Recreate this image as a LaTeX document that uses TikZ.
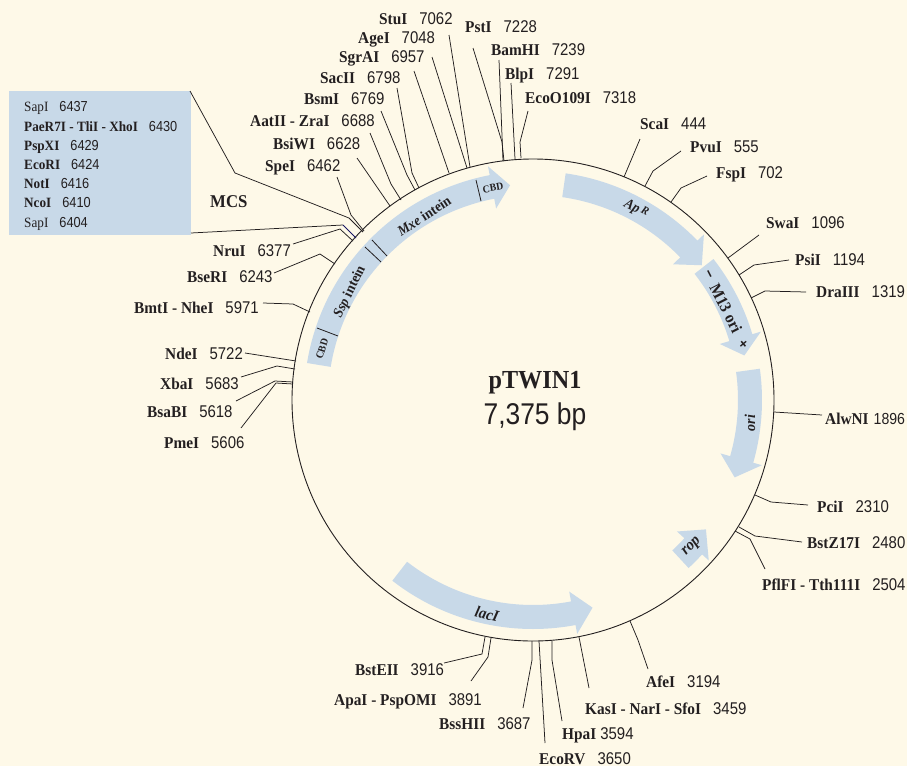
\documentclass[tikz,border=0pt]{standalone}
\usepackage{fontspec}
\setmainfont{Liberation Serif}
\newfontfamily\labserif[FakeStretch=0.93]{Liberation Serif}
\newfontfamily\labsans[FakeStretch=0.88]{Liberation Sans}
\definecolor{paper}{HTML}{FEF9E8}
\definecolor{bandblue}{HTML}{C8D9E8}
\definecolor{ink}{HTML}{231F20}
\tikzset{
  sitelab/.style={anchor=base west,inner sep=0pt,yshift=-6pt,text=ink,font=\labserif\fontsize{16.5}{18}\selectfont},
  boxlab/.style={anchor=base west,inner sep=0pt,yshift=-5pt,text=ink,font=\labserif\fontsize{14.2}{16}\selectfont},
  genelab/.style={inner sep=0pt,text=ink,font=\labserif\bfseries\fontsize{14.4}{17}\selectfont},
  leadline/.style={draw=ink,line width=0.75pt},
  sepline/.style={draw=ink,line width=0.8pt},
  band/.style={fill=bandblue,draw=none},
}
\newcommand{\sitetext}[5]{\node[sitelab] (#1) at (#2,#3) {{\bfseries #4}\hspace{12pt}{\labsans\fontsize{17}{18}\selectfont #5}};}
\newcommand{\boxtext}[5]{\node[boxlab] (#1) at (#2,#3) {{\bfseries #4}\hspace{11pt}{\labsans\fontsize{14.5}{16}\selectfont #5}};}
\newcommand{\leadtwo}[3]{\coordinate (#1a) at #2; \coordinate (#1b) at #3; \draw[leadline] (#1a) -- (#1b);}
\newcommand{\leadthree}[4]{\coordinate (#1a) at #2; \coordinate (#1b) at #3; \coordinate (#1c) at #4; \draw[leadline] (#1a) -- (#1b) -- (#1c);}
\newcommand{\geneband}[3]{\fill[band] (#1:229pt) arc[start angle=#1,end angle=#2,radius=229pt] -- (#2:238pt) -- (#3:216pt) -- (#2:195pt) -- (#2:205pt) arc[start angle=#2,end angle=#1,radius=205pt] -- cycle;}
\begin{document}
\begin{tikzpicture}[x=1pt,y=-1pt]
\fill[paper] (0,0) rectangle (907,766);
\useasboundingbox (0,0) rectangle (907,766);
% gene bands
\begin{scope}[shift={(533,400)}]
\geneband{170.7}{100.9}{96.1}
\geneband{81.8}{44.1}{38.6}
\geneband{38}{16.7}{11.9}
\geneband{7.85}{-15.9}{-21}
\geneband{-47.2}{-42.4}{-36.8}
\geneband{232.1}{280.7}{286}
\end{scope}
% plasmid ring
\node[circle,draw=ink,line width=0.9pt,minimum size=482pt,inner sep=0pt] (ring) at (533,400) {};
% separators
\draw[sepline] (317,328) -- (338,336);
\draw[sepline] (365,247) -- (381,262);
\draw[sepline] (372,240) -- (387,256);
\draw[sepline] (476,180) -- (481,201);
% gene labels
\node[genelab,rotate=72,font=\labserif\bfseries\fontsize{10.5}{12}\selectfont] (cbdone) at (322,349) {CBD};
\node[genelab,rotate=64] (ssp) at (350,292) {{\itshape Ssp} intein};
\node[genelab,rotate=33] (mxe) at (424,216) {{\itshape Mxe} intein};
\node[genelab,rotate=10,font=\labserif\bfseries\fontsize{10.5}{12}\selectfont] (cbdtwo) at (493,188) {CBD};
\node[genelab,rotate=-27] (apr) at (636,209) {{\itshape Ap}\,\raisebox{2pt}{\fontsize{11.5}{12}\selectfont\itshape R}};
\node[genelab,rotate=-63,font=\labsans\bfseries\fontsize{16}{18}\selectfont] (m13minus) at (708,275) {–};
\node[genelab,rotate=-63,font=\labserif\bfseries\fontsize{16.5}{18}\selectfont] (m13) at (726,308) {M13 ori};
\node[genelab,rotate=-50,font=\labsans\bfseries\fontsize{15}{17}\selectfont] (m13plus) at (743,345) {+};
\node[genelab,rotate=90,font=\labserif\bfseries\itshape\fontsize{15}{17}\selectfont] (orilab) at (750,423) {ori};
\node[genelab,rotate=45,font=\labserif\bfseries\itshape\fontsize{16}{18}\selectfont] (roplab) at (692,547) {rop};
\node[genelab,rotate=-14,font=\labserif\bfseries\itshape\fontsize{16}{18}\selectfont] (laci) at (487,614) {lacI};
% title
\node[inner sep=0pt,text=ink,font=\labserif\bfseries\fontsize{26}{29}\selectfont] (title) at (535,383) {pTWIN1};
\node[inner sep=0pt,text=ink,font=\labsans\fontsize{30}{32}\selectfont] (size) at (535,417) {7,375 bp};
% MCS box
\fill[bandblue] (9,91) rectangle (191,235);
\boxtext{sapa}{24}{106}{\mdseries SapI}{6437}
\boxtext{paer}{24}{126}{PaeR7I - TliI - XhoI}{6430}
\boxtext{pspx}{24}{145}{PspXI}{6429}
\boxtext{ecori}{24}{164}{EcoRI}{6424}
\boxtext{noti}{24}{183}{NotI}{6416}
\boxtext{ncoi}{24}{202}{NcoI}{6410}
\boxtext{sapb}{24}{222}{\mdseries SapI}{6404}
\node[sitelab,font=\labserif\bfseries\fontsize{18}{20}\selectfont] (mcs) at (210,201) {MCS};
\leadthree{mcst}{(190,91)}{(235,173)}{(349,218)}
\draw[leadline] (mcstc) -- (363,232);
\leadtwo{mcsb}{(191,233)}{(343,225)}
\draw[draw=blue!30!ink,line width=0.75pt] (mcsbb) -- (356,238);
% site labels
\sitetext{stu}{379}{18}{StuI}{7062}
\sitetext{age}{358}{37}{AgeI}{7048}
\sitetext{sgr}{339}{56}{SgrAI}{6957}
\sitetext{sac}{320}{77}{SacII}{6798}
\sitetext{bsm}{304}{98}{BsmI}{6769}
\sitetext{aat}{250}{120}{AatII - ZraI}{6688}
\sitetext{bsi}{273}{143}{BsiWI}{6628}
\sitetext{spe}{265}{165}{SpeI}{6462}
\sitetext{nru}{213}{250}{NruI}{6377}
\sitetext{bse}{187}{276}{BseRI}{6243}
\sitetext{bmt}{134}{307}{BmtI - NheI}{5971}
\sitetext{nde}{165}{353}{NdeI}{5722}
\sitetext{xba}{160}{383}{XbaI}{5683}
\sitetext{bsa}{147}{411}{BsaBI}{5618}
\sitetext{pme}{164}{442}{PmeI}{5606}
\sitetext{pst}{465}{26}{PstI}{7228}
\sitetext{bam}{491}{49}{BamHI}{7239}
\sitetext{blp}{505}{73}{BlpI}{7291}
\sitetext{eco}{525}{97}{EcoO109I}{7318}
\sitetext{sca}{640}{123}{ScaI}{444}
\sitetext{pvu}{690}{146}{PvuI}{555}
\sitetext{fsp}{716}{172}{FspI}{702}
\sitetext{swa}{766}{222}{SwaI}{1096}
\sitetext{psi}{795}{259}{PsiI}{1194}
\sitetext{dra}{816}{291}{DraIII}{1319}
\node[sitelab] (alw) at (825,418) {{\bfseries AlwNI}\hspace{5pt}{\labsans\fontsize{16}{18}\selectfont 1896}};
\sitetext{pci}{817}{506}{PciI}{2310}
\sitetext{bst}{807}{542}{BstZ17I}{2480}
\sitetext{pfl}{762}{584}{PflFI - Tth111I}{2504}
\sitetext{afe}{646}{681}{AfeI}{3194}
\sitetext{kas}{585}{708}{KasI - NarI - SfoI}{3459}
\node[sitelab] (hpa) at (562,733) {{\bfseries HpaI}\hspace{4pt}{\labsans\fontsize{17}{18}\selectfont 3594}};
\sitetext{ecv}{539}{758}{EcoRV}{3650}
\sitetext{bss}{439}{723}{BssHII}{3687}
\sitetext{apa}{334}{699}{ApaI - PspOMI}{3891}
\sitetext{bte}{355}{669}{BstEII}{3916}
% leaders
\leadtwo{lstu}{(449,35)}{(470,167)}
\leadtwo{lage}{(432,57)}{(467,168)}
\leadtwo{lsgr}{(414,71)}{(449,173)}
\leadthree{lsac}{(397,88)}{(412,173)}{(419,188)}
\leadthree{lbsm}{(381,111)}{(407,175)}{(415,190)}
\leadthree{laat}{(370,133)}{(391,184)}{(401,200)}
\leadtwo{lbsi}{(357,158)}{(390,206)}
\leadthree{lspe}{(337,177)}{(351,215)}{(364,231)}
\leadthree{lnru}{(293,244)}{(340,229)}{(353,241)}
\leadthree{lbse}{(274,273)}{(320,254)}{(335,264)}
\leadthree{lbmt}{(263,303)}{(293,304)}{(310,312)}
\leadtwo{lnde}{(245,353)}{(296,361)}
\leadthree{lxba}{(241,377)}{(277,366)}{(295,369)}
\leadthree{lbsa}{(236,401)}{(275,381)}{(293,382)}
\leadthree{lpme}{(241,428)}{(276,383)}{(293,384)}
\leadthree{lpst}{(473,48)}{(502,142)}{(504,161)}
\leadtwo{lbam}{(499,60)}{(503,161)}
\leadtwo{lblp}{(511,83)}{(515,159)}
\leadthree{lecob}{(528,111)}{(520,142)}{(521,158)}
\leadtwo{lsca}{(640,139)}{(624,177)}
\leadthree{lpvu}{(681,151)}{(653,171)}{(645,186)}
\leadthree{lfsp}{(707,176)}{(681,188)}{(671,202)}
\leadtwo{lswa}{(759,235)}{(728,258)}
\leadthree{lpsi}{(789,260)}{(754,265)}{(739,275)}
\leadthree{ldra}{(806,292)}{(765,291)}{(751,298)}
\leadtwo{lalw}{(822,415)}{(774,412)}
\leadthree{lpci}{(808,505)}{(771,502)}{(755,495)}
\leadthree{lbst}{(802,542)}{(755,536)}{(739,527)}
\leadthree{lpfl}{(765,569)}{(750,539)}{(735,531)}
\leadthree{lafe}{(648,669)}{(638,640)}{(630,621)}
\leadtwo{lkas}{(589,688)}{(579,637)}
\leadthree{lhpa}{(562,721)}{(552,660)}{(552,641)}
\leadtwo{lecv}{(545,743)}{(539,641)}
\leadthree{lbss}{(523,708)}{(532,660)}{(532,641)}
\leadthree{lapa}{(471,681)}{(488,657)}{(491,638)}
\leadthree{lbte}{(444,663)}{(482,654)}{(485,637)}
\end{tikzpicture}
\end{document}
